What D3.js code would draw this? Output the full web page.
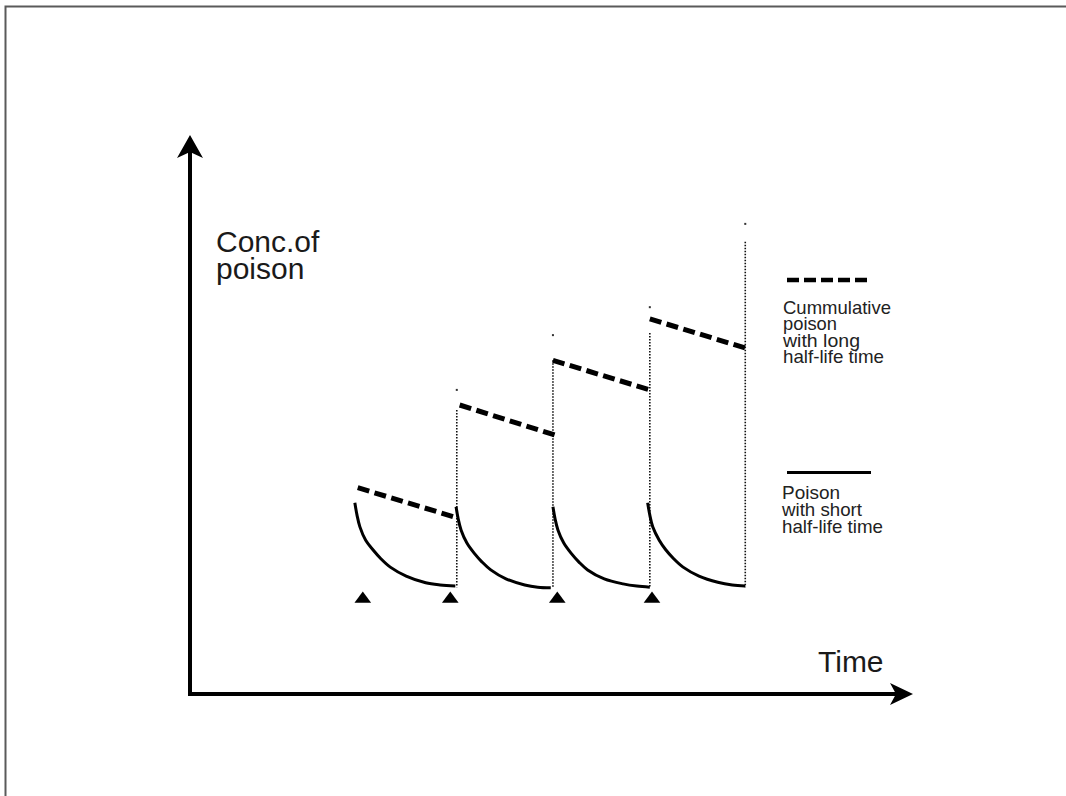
<!DOCTYPE html>
<html><head><meta charset="utf-8">
<script src="https://cdn.jsdelivr.net/npm/d3@7"></script>
<style>html,body{margin:0;padding:0;background:#fff;overflow:hidden}</style>
</head><body><svg id="chart" width="1066" height="796"></svg>
<script>
// ---- data (arbitrary units: time 0-100, concentration 0-100) ----
const doseTimes = [23.9, 36.0, 50.8, 63.9];
const doseLevel = 17.0;

const shortCurve1 = [[22.8,34.2],[23.1,32.0],[23.5,29.9],[24.3,27.5],[25.3,25.8],[26.4,24.2],[27.7,22.7],[29.9,21.1],[32.6,19.9],[34.6,19.5],[36.7,19.3]];
const shortCurve2 = [[36.8,33.5],[37.1,31.3],[37.5,29.3],[38.3,27.0],[39.3,25.2],[40.4,23.6],[41.6,22.2],[43.7,20.6],[46.3,19.5],[48.1,19.1],[49.9,19.0]];
const shortCurve3 = [[50.2,33.5],[50.5,31.3],[50.9,29.3],[51.7,27.0],[52.7,25.2],[53.8,23.6],[55.0,22.2],[57.3,20.6],[59.9,19.7],[61.8,19.3],[63.6,19.1]];
const shortCurve4 = [[63.3,34.2],[63.6,32.0],[64.0,29.9],[64.9,27.5],[65.8,25.8],[66.9,24.2],[68.2,22.7],[70.4,21.1],[73.0,20.0],[75.0,19.5],[76.8,19.3]];
const shortCurves = [shortCurve1, shortCurve2, shortCurve3, shortCurve4];

const longSeg1 = [[23.2,36.9],[36.5,31.7]];
const longSeg2 = [[37.3,51.7],[50.8,46.2]];
const longSeg3 = [[50.2,59.7],[63.6,54.4]];
const longSeg4 = [[63.6,67.1],[76.8,61.9]];
const longSegments = [longSeg1, longSeg2, longSeg3, longSeg4];

const dottedX = [36.9, 50.2, 63.6, 76.8];
const dottedTop = [50.8, 59.7, 64.6, 80.9];
const dottedBottom = 19.1;
const dotMarks = [54.4, 64.2, 69.2, 84.1];

const yLabel = ["Conc.of", "poison"];
const xLabel = "Time";
const legendLong = ["Cummulative", "poison", "with long", "half-life time"];
const legendShort = ["Poison", "with short", "half-life time"];

// ---- drawing ----
const svg = d3.select("#chart");
const x = d3.scaleLinear().domain([0,100]).range([190, 913]);
const y = d3.scaleLinear().domain([0,100]).range([694, 135]);
const font = "'Liberation Sans', Arial, Helvetica, sans-serif";

svg.append("rect").attr("width",1066).attr("height",796).attr("fill","#fff");
// frame
svg.append("path").attr("d","M5.5,796 V6.5 H1066").attr("fill","none").attr("stroke","#5a5a5a").attr("stroke-width",2);

// axes
const x0 = x(0), y0 = y(0), xEnd = x(100), yEnd = y(100);
svg.append("line").attr("x1",x0).attr("x2",x0).attr("y1",y0+2).attr("y2",yEnd+16)
  .attr("stroke","#000").attr("stroke-width",4);
svg.append("line").attr("x1",x0-2).attr("x2",xEnd-16).attr("y1",y0).attr("y2",y0)
  .attr("stroke","#000").attr("stroke-width",4);
svg.append("path").attr("d",`M${x0},${yEnd} L${x0-13},${yEnd+23} L${x0},${yEnd+17} L${x0+13},${yEnd+23} Z`).attr("fill","#000");
svg.append("path").attr("d",`M${xEnd},${y0} L${xEnd-23},${y0-11} L${xEnd-17},${y0} L${xEnd-23},${y0+11} Z`).attr("fill","#000");

// axis labels
const yl = svg.append("text").attr("font-family",font).attr("font-size",30).attr("fill","#1a1a1a");
yLabel.forEach((t,i)=> yl.append("tspan").attr("x",216).attr("y",252+i*27).text(t));
svg.append("text").attr("x",818).attr("y",672).attr("font-family",font).attr("font-size",30).attr("fill","#1a1a1a").text(xLabel);

// dotted verticals
svg.selectAll(".dotv").data(dottedX).join("line").attr("class","dotv")
  .attr("x1",d=>x(d)).attr("x2",d=>x(d)).attr("y1",(d,i)=>y(dottedTop[i])).attr("y2",y(dottedBottom))
  .attr("stroke","#111").attr("stroke-width",1.6).attr("stroke-dasharray","1.5,1.5");
svg.selectAll(".dotm").data(dottedX).join("rect").attr("class","dotm")
  .attr("x",d=>x(d)-1).attr("y",(d,i)=>y(dotMarks[i])-1).attr("width",2).attr("height",2).attr("fill","#333");

// short half-life curves
const line = d3.line().x(d=>x(d[0])).y(d=>y(d[1])).curve(d3.curveCatmullRom.alpha(0.5));
svg.selectAll(".short").data(shortCurves).join("path").attr("class","short")
  .attr("d",line).attr("fill","none").attr("stroke","#000").attr("stroke-width",3);

// long half-life dashed segments
const sline = d3.line().x(d=>x(d[0])).y(d=>y(d[1]));
svg.selectAll(".long").data(longSegments).join("path").attr("class","long")
  .attr("d",sline).attr("fill","none").attr("stroke","#000").attr("stroke-width",5).attr("stroke-dasharray","12,5.5");

// dose triangles
const tri = d3.symbol().type(d3.symbolTriangle).size(120);
svg.selectAll(".dose").data(doseTimes).join("path").attr("class","dose")
  .attr("d",tri()).attr("transform",d=>`translate(${x(d)},${y(doseLevel)}) scale(1,0.78)`).attr("fill","#000");

// legend
svg.append("line").attr("x1",787).attr("x2",871).attr("y1",280).attr("y2",280)
  .attr("stroke","#000").attr("stroke-width",4.5).attr("stroke-dasharray","12,5");
const ll = svg.append("text").attr("font-family",font).attr("font-size",19).attr("fill","#222");
const llLen = [108, 54, 77, 101];
legendLong.forEach((t,i)=> ll.append("tspan").attr("x",783).attr("y",314+i*16.4).attr("textLength",llLen[i]).attr("lengthAdjust","spacingAndGlyphs").text(t));

svg.append("line").attr("x1",787).attr("x2",871).attr("y1",472.5).attr("y2",472.5)
  .attr("stroke","#000").attr("stroke-width",3);
const ls = svg.append("text").attr("font-family",font).attr("font-size",19).attr("fill","#222");
const lsLen = [58, 80, 101];
legendShort.forEach((t,i)=> ls.append("tspan").attr("x",782).attr("y",499+i*17).attr("textLength",lsLen[i]).attr("lengthAdjust","spacingAndGlyphs").text(t));
</script>
</body></html>
